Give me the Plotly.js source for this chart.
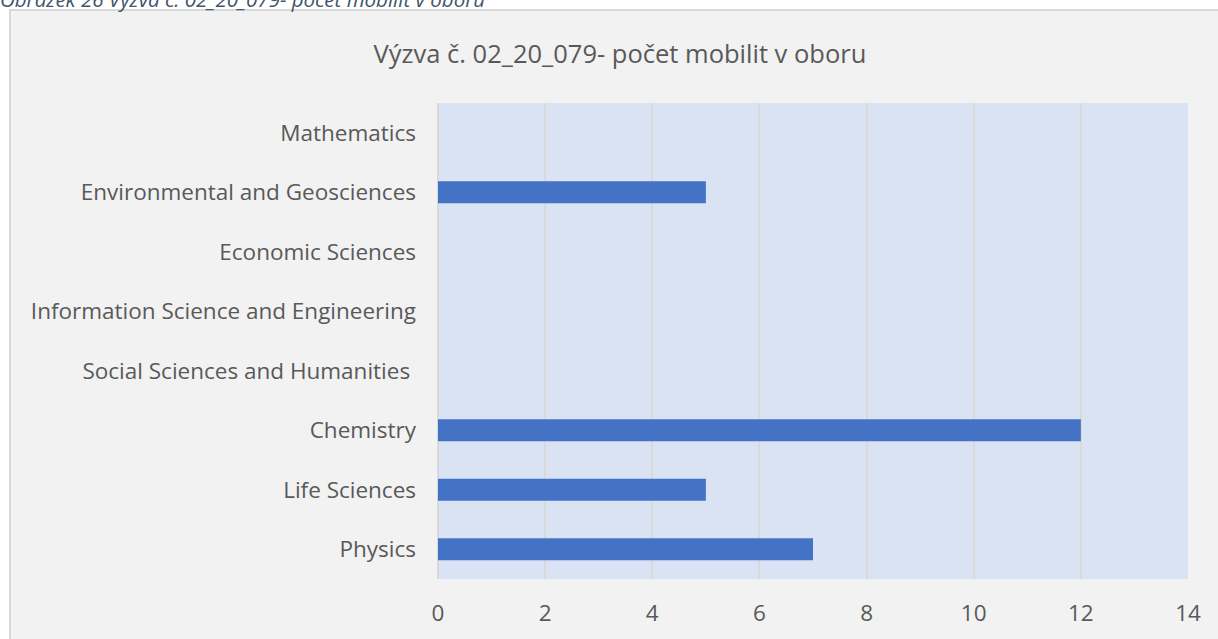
<!DOCTYPE html>
<html>
<head>
<meta charset="utf-8">
<script src="https://cdn.plot.ly/plotly-3.0.1.min.js"></script>
<style>
html,body{margin:0;padding:0;background:#ffffff;}
#chart{width:1218px;height:639px;}
</style>
</head>
<body>
<div id="chart"></div>
<script>
const categories = [
  "Physics",
  "Life Sciences",
  "Chemistry",
  "Social Sciences and Humanities ",
  "Information Science and Engineering",
  "Economic Sciences",
  "Environmental and Geosciences",
  "Mathematics"
];
const mobilities = [7, 5, 12, 0, 0, 0, 5, 0];
const xTickValues = [0, 2, 4, 6, 8, 10, 12, 14];
const chartTitle = "Výzva č. 02_20_079- počet mobilit v oboru";
const captionText = "Obrázek 26 Výzva č. 02_20_079- počet mobilit v oboru";

const W = 1218, H = 639;
const m = {l: 438, r: 30, t: 103, b: 60};
const pw = W - m.l - m.r, ph = H - m.t - m.b;
const px = v => (v - m.l) / pw;          // page x pixel -> paper
const py = v => (H - m.b - v) / ph;      // page y pixel -> paper

const font = "Open Sans, Noto Sans, sans-serif";

const trace = {
  type: "bar",
  orientation: "h",
  y: categories,
  x: mobilities,
  marker: {color: "#4472c4", line: {width: 0}},
  width: 0.37,
  hoverinfo: "x+y"
};

const layout = {
  width: W, height: H,
  margin: m,
  paper_bgcolor: "#ffffff",
  plot_bgcolor: "rgba(0,0,0,0)",
  showlegend: false,
  font: {family: font, color: "#595959", size: 22.5},
  title: {
    text: chartTitle,
    font: {family: font, size: 25.5, color: "#595959"},
    x: 0.509, xref: "container", xanchor: "center",
    y: 1 - 54 / H, yref: "container", yanchor: "middle"
  },
  xaxis: {
    range: [0, 14],
    tickvals: xTickValues,
    showgrid: true,
    gridcolor: "#d9d9d9",
    gridwidth: 2,
    zeroline: false,
    showline: false,
    ticks: "",
    ticklabelstandoff: 18,
    tickfont: {family: font, size: 22.5, color: "#595959"},
    fixedrange: true
  },
  yaxis: {
    type: "category",
    categoryorder: "array",
    categoryarray: categories,
    showgrid: false,
    zeroline: false,
    showline: false,
    ticks: "",
    ticklabelstandoff: 21,
    tickfont: {family: font, size: 22.5, color: "#595959"},
    fixedrange: true
  },
  shapes: [
    {type: "rect", xref: "paper", yref: "paper", layer: "below",
     x0: px(10), x1: px(1222), y0: py(643), y1: py(10),
     fillcolor: "#f2f2f2", line: {color: "#d9d9d9", width: 2}},
    {type: "rect", xref: "paper", yref: "paper", layer: "below",
     x0: 0, x1: 1, y0: 0, y1: 1,
     fillcolor: "#dae3f3", line: {width: 0}},
    {type: "line", xref: "paper", yref: "paper", layer: "below",
     x0: 0, x1: 0, y0: 0, y1: 1,
     line: {color: "#d9d9d9", width: 2}}
  ],
  annotations: [
    {text: captionText, xref: "paper", yref: "paper",
     x: px(-2), y: py(-1), xanchor: "left", yanchor: "middle",
     showarrow: false,
     font: {family: font, size: 20.5, color: "#44546a", style: "italic"}}
  ]
};

Plotly.newPlot("chart", [trace], layout, {displayModeBar: false, staticPlot: true});
</script>
</body>
</html>
